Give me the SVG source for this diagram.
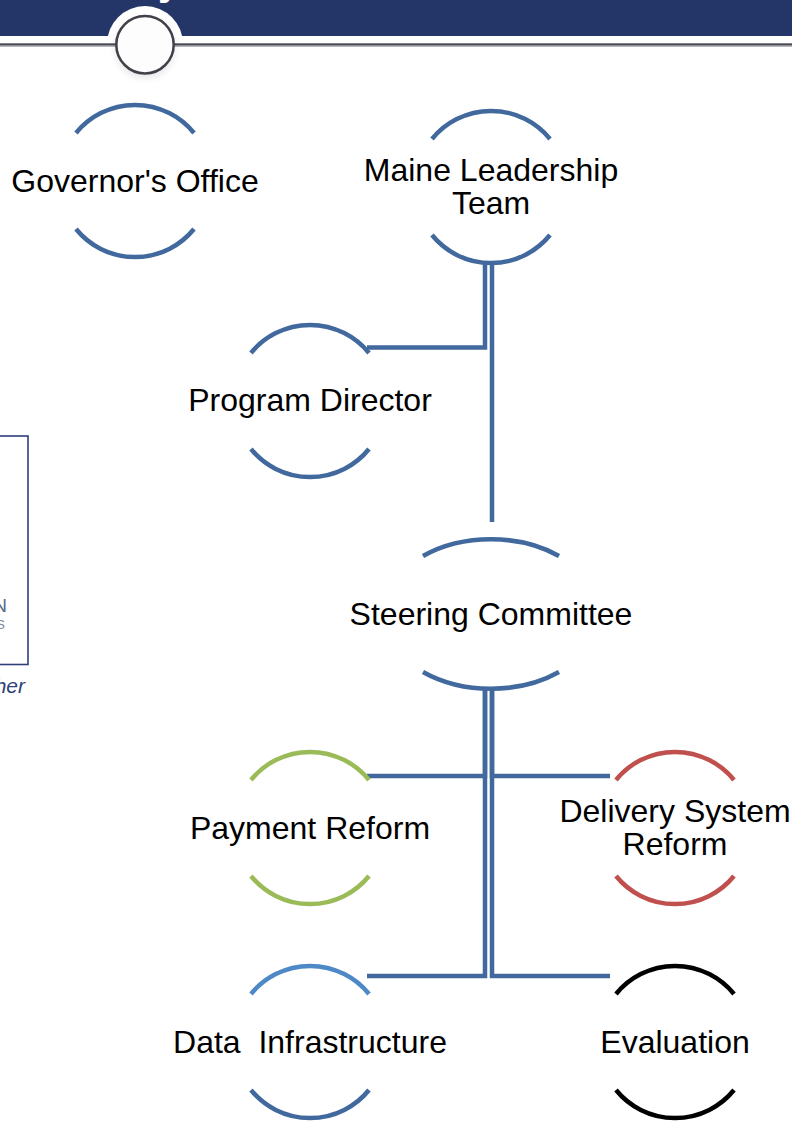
<svg xmlns="http://www.w3.org/2000/svg" width="792" height="1121" viewBox="0 0 792 1121">
  <style>
    .lbl { font-family: "Liberation Sans", Arial, sans-serif; font-size: 32px; fill: #000; text-anchor: middle; }
    .arc { fill: none; stroke-width: 4.5; stroke-linecap: butt; }
    .blue { stroke: #41699D; }
    .lblue { stroke: #4F88C6; }
    .green { stroke: #9BBB59; }
    .red { stroke: #C0504D; }
    .black { stroke: #000; }
    .conn { fill: none; stroke: #41699D; stroke-width: 4.5; stroke-linejoin: miter; }
  </style>
  <defs>
    <filter id="soft" x="-50%" y="-50%" width="200%" height="200%">
      <feGaussianBlur stdDeviation="3"/>
    </filter>
  </defs>

  <rect width="792" height="1121" fill="#fff"/>

  <!-- header band -->
  <g id="header">
    <rect x="0" y="0" width="792" height="36" fill="#243668"/>
    <text x="158" y="-5" font-family="Liberation Sans, Arial, sans-serif" font-size="40" font-weight="bold" fill="#fff">y</text>
    <circle cx="145" cy="44" r="38" fill="#fff"/>
    <rect x="0" y="43.3" width="792" height="2.4" fill="#4B4D55"/>
    <rect x="0" y="45.7" width="792" height="1.2" fill="#AEB1B8"/>
    <circle cx="145" cy="48" r="31" fill="#000" opacity="0.08" filter="url(#soft)"/>
    <circle cx="145" cy="44.7" r="28.7" fill="#FDFDFD" stroke="#404148" stroke-width="2.5"/>
  </g>

  <!-- side panel edge -->
  <g id="side-panel">
    <rect x="-20" y="436" width="48" height="228.5" fill="#fff" stroke="#2F3F7A" stroke-width="1.6"/>
    <text x="7" y="612" font-family="Liberation Sans, Arial, sans-serif" font-size="19" fill="#5A6A8A" text-anchor="end">N</text>
    <text x="5" y="629" font-family="Liberation Sans, Arial, sans-serif" font-size="13" fill="#7A86A0" text-anchor="end">S</text>
    <text x="25" y="693" font-family="Liberation Sans, Arial, sans-serif" font-size="21" font-style="italic" fill="#2F3F7A" text-anchor="end">her</text>
  </g>

  <!-- connectors -->
  <g id="connectors">
    <path class="conn" d="M485,263 V347.5 H367"/>
    <path class="conn" d="M492,263 V522"/>
    <path class="conn" d="M485,689 V776 H367"/>
    <path class="conn" d="M485,689 V976 H367"/>
    <path class="conn" d="M492,689 V776 H610"/>
    <path class="conn" d="M492,689 V976 H610"/>
  </g>

  <!-- nodes -->
  <g id="governors-office">
    <path class="arc blue" d="M76,133 A76,76 0 0 1 194,133"/>
    <path class="arc blue" d="M76,229 A76,76 0 0 0 194,229"/>
    <text class="lbl" x="135" y="192">Governor's Office</text>
  </g>

  <g id="maine-leadership-team">
    <path class="arc blue" d="M432,139 A76,76 0 0 1 550,139"/>
    <path class="arc blue" d="M432,235 A76,76 0 0 0 550,235"/>
    <text class="lbl" x="491" y="181">Maine Leadership</text>
    <text class="lbl" x="491" y="214">Team</text>
  </g>

  <g id="program-director">
    <path class="arc blue" d="M251,353 A76,76 0 0 1 369,353"/>
    <path class="arc blue" d="M251,449 A76,76 0 0 0 369,449"/>
    <text class="lbl" x="310" y="411">Program Director</text>
  </g>

  <g id="steering-committee">
    <path class="arc blue" d="M423,556 A108,75 0 0 1 559,556"/>
    <path class="arc blue" d="M423,672 A108,75 0 0 0 559,672"/>
    <text class="lbl" x="491" y="625">Steering Committee</text>
  </g>

  <g id="payment-reform">
    <path class="arc green" d="M251,780 A76,76 0 0 1 369,780"/>
    <path class="arc green" d="M251,876 A76,76 0 0 0 369,876"/>
    <text class="lbl" x="310" y="839">Payment Reform</text>
  </g>

  <g id="delivery-system-reform">
    <path class="arc red" d="M616,780 A76,76 0 0 1 734,780"/>
    <path class="arc red" d="M616,876 A76,76 0 0 0 734,876"/>
    <text class="lbl" x="675" y="822">Delivery System</text>
    <text class="lbl" x="675" y="855">Reform</text>
  </g>

  <g id="data-infrastructure">
    <path class="arc lblue" d="M251,994 A76,76 0 0 1 369,994"/>
    <path class="arc blue" d="M251,1090 A76,76 0 0 0 369,1090"/>
    <text class="lbl" x="310" y="1053" xml:space="preserve">Data  Infrastructure</text>
  </g>

  <g id="evaluation">
    <path class="arc black" d="M616,994 A76,76 0 0 1 734,994"/>
    <path class="arc black" d="M616,1090 A76,76 0 0 0 734,1090"/>
    <text class="lbl" x="675" y="1053">Evaluation</text>
  </g>
</svg>
